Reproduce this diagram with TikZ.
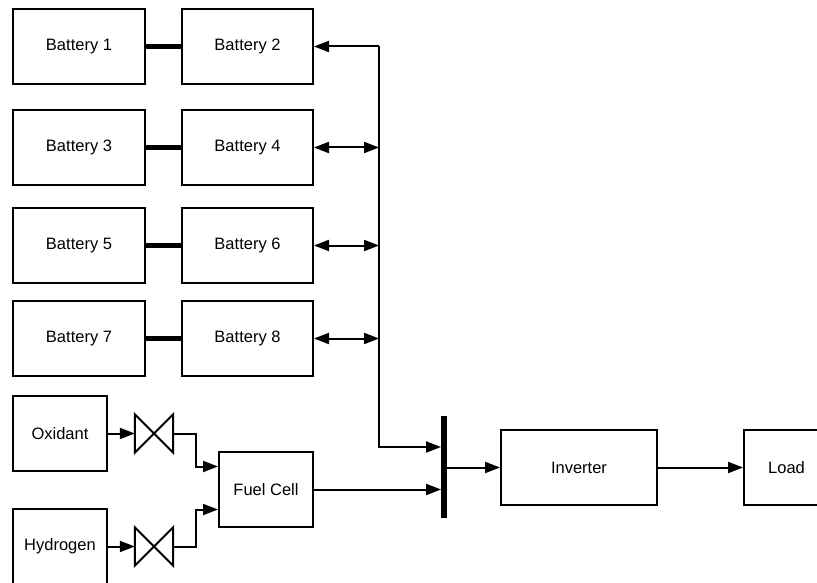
\documentclass[tikz,border=0pt]{standalone}
\usepackage{fontspec}
\setmainfont{Liberation Sans}
\usepackage{tikz}
\usetikzlibrary{arrows.meta}
\tikzset{
  blk/.style={draw,line width=2pt,minimum height=75pt,inner sep=0pt,font=\fontsize{16.5}{20}\selectfont},
  lnk/.style={line width=5.5pt},
  flw/.style={line width=2pt,-{Triangle[length=15pt,width=11pt]}},
  dbl/.style={line width=2pt,{Triangle[length=15pt,width=11pt]}-{Triangle[length=15pt,width=11pt]}},
  busbar/.style={fill=black,inner sep=0pt,minimum width=5.5pt,minimum height=102pt},
  vlv/.style={inner sep=0pt,minimum width=38pt,minimum height=38pt},
  vlvline/.style={line width=2pt,line join=miter}
}
\begin{document}
\begin{tikzpicture}[x=1pt,y=-1pt]
\useasboundingbox (0,0) rectangle (817,583);
% battery strings
\node[blk,minimum width=132pt] (b1) at (79,46.5) {Battery 1};
\node[blk,minimum width=131pt] (b2) at (247.5,46.5) {Battery 2};
\node[blk,minimum width=132pt] (b3) at (79,147.5) {Battery 3};
\node[blk,minimum width=131pt] (b4) at (247.5,147.5) {Battery 4};
\node[blk,minimum width=132pt] (b5) at (79,245.5) {Battery 5};
\node[blk,minimum width=131pt] (b6) at (247.5,245.5) {Battery 6};
\node[blk,minimum width=132pt] (b7) at (79,338.5) {Battery 7};
\node[blk,minimum width=131pt] (b8) at (247.5,338.5) {Battery 8};
\draw[lnk] (b1) -- (b2); \draw[lnk] (b3) -- (b4);
\draw[lnk] (b5) -- (b6); \draw[lnk] (b7) -- (b8);
% fuel side
\node[blk,minimum width=94pt] (ox) at (60,433.5) {Oxidant};
\node[blk,minimum width=94pt] (hy) at (60,546.5) {Hydrogen};
\node[vlv] (v1) at (154,433.5) {};
\node[vlv] (v2) at (154,546.5) {};
\draw[vlvline] (v1.north west) -- (v1.south east) -- (v1.north east) -- (v1.south west) -- cycle;
\draw[vlvline] (v2.north west) -- (v2.south east) -- (v2.north east) -- (v2.south west) -- cycle;
\node[blk,minimum width=94pt] (fc) at (266,489.5) {Fuel Cell};
% bus, inverter, load
\node[busbar] (bus) at (444,467) {};
\node[blk,minimum width=156pt] (inv) at (579,467.5) {Inverter};
\node[blk,minimum width=85pt] (load) at (786.5,467.5) {Load};
\coordinate (j0) at (379,46.5);
% connectors
\draw[flw] (j0) -- (b2.east);
\draw[flw] (j0) |- ([yshift=20pt]bus.west);
\draw[dbl] (b4.east) -- (b4.east -| j0);
\draw[dbl] (b6.east) -- (b6.east -| j0);
\draw[dbl] (b8.east) -- (b8.east -| j0);
\draw[flw] (ox) -- (v1);
\draw[flw] (hy) -- (v2);
\draw[flw] (v1.east) -- ++(23,0) |- ([yshift=23pt]fc.west);
\draw[flw] (v2.east) -- ++(23,0) |- ([yshift=-20pt]fc.west);
\draw[flw] (fc.east) -- (fc.east -| bus.west);
\draw[flw] (bus.east |- inv.west) -- (inv.west);
\draw[flw] (inv) -- (load);
\end{tikzpicture}
\end{document}
